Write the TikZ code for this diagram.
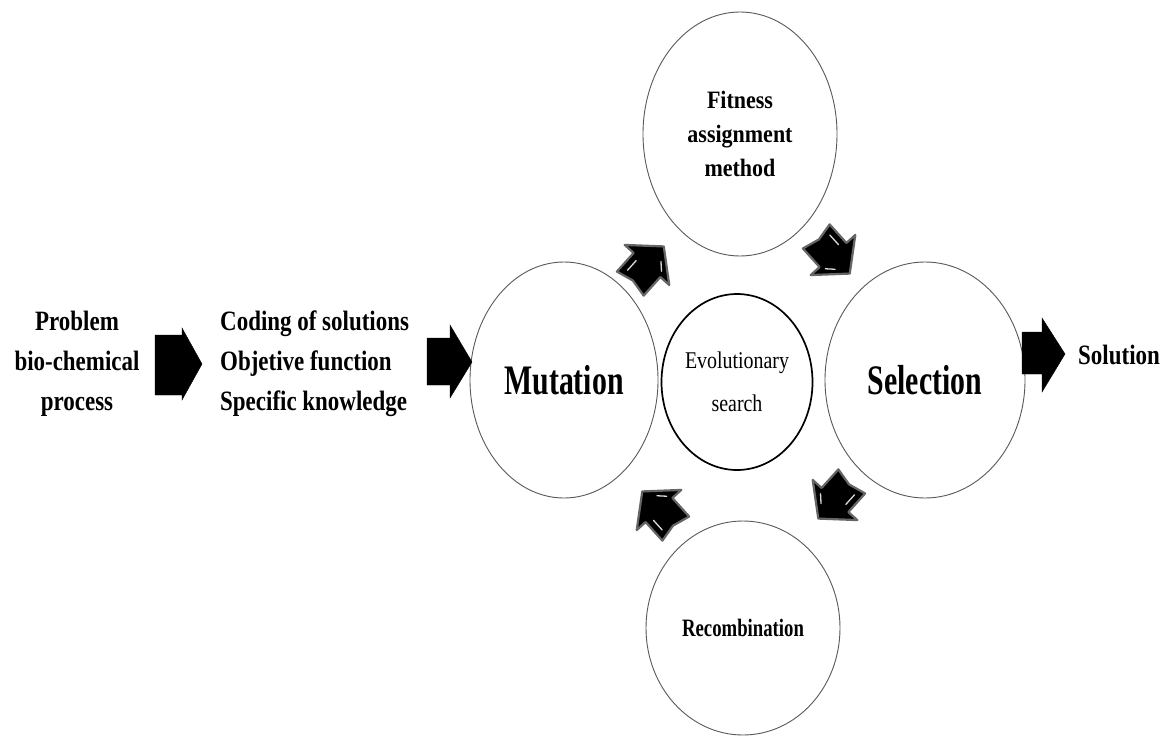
\documentclass[tikz,border=0pt]{standalone}
\usepackage{fontspec}
\setmainfont{Liberation Serif}
\newfontfamily\fA[FakeStretch=0.82]{Liberation Serif}
\newfontfamily\fB[FakeStretch=0.71]{Liberation Serif}
\newfontfamily\fC[FakeStretch=0.88]{Liberation Serif}
\newfontfamily\fD[FakeStretch=0.75]{Liberation Serif}
\newfontfamily\fE[FakeStretch=0.83]{Liberation Serif}
\usetikzlibrary{shapes.geometric}
\tikzset{
  circ/.style={ellipse, draw=black!65, line width=0.9pt, inner sep=0pt, align=center},
  bigarrow/.style={fill=black, draw=black, line width=0.4pt},
  smallarrow/.style={fill=black, draw=black!60, line width=2.2pt, line join=round},
  shine/.style={draw=white!85!black, line width=1.3pt, line cap=round},
}
\newcommand\diagarrow[3]{%
  \begin{scope}[shift={(#1,#2)}, rotate=#3]
    \path[smallarrow] (-25,-18) -- (0,-18) -- (0,-30) -- (25,0) -- (0,30) -- (0,18) -- (-25,18) -- (-21,0) -- cycle;
    \draw[shine] (-17,-11) -- (-4,-11);
    \draw[shine] (5,15) -- (12,8);
  \end{scope}}
\begin{document}
\begin{tikzpicture}[x=1pt, y=-1pt]
\useasboundingbox[fill=white] (0,0) rectangle (1169,736);

% circles
\node[circ, minimum width=194pt, minimum height=244pt,
  font={\fC\bfseries\fontsize{25}{34}\selectfont}] (fit) at (740,134)
  {Fitness\\assignment\\method};
\node[circ, minimum width=188pt, minimum height=236pt,
  font={\fB\bfseries\fontsize{42}{46}\selectfont}] (mut) at (564,380)
  {Mutation};
\node[circ, minimum width=200pt, minimum height=236pt,
  font={\fB\bfseries\fontsize{42}{46}\selectfont}] (sel) at (925,380)
  {Selection};
\node[circ, minimum width=194pt, minimum height=214pt,
  font={\fD\bfseries\fontsize{25}{30}\selectfont}] (rec) at (743,628)
  {Recombination};
\node[circ, draw=black, line width=1.7pt, minimum width=151pt, minimum height=176pt,
  font={\fE\fontsize{24}{43}\selectfont}] (evo) at (737,382)
  {Evolutionary\\search};

% texts
\node[align=center, inner sep=0pt, font={\fA\bfseries\fontsize{28}{40}\selectfont}] (prob) at (77,364)
  {Problem\\bio-chemical\\process};
\node[align=left, anchor=west, inner sep=0pt, font={\fA\bfseries\fontsize{28}{40}\selectfont}] (code) at (220,364)
  {Coding of solutions\\Objetive function\\Specific knowledge};
\node[anchor=west, inner sep=0pt, font={\fA\bfseries\fontsize{28}{34}\selectfont}] (solu) at (1078,355)
  {Solution};

% straight block arrows
\path[bigarrow] (155,335) -- (182,335) -- (182,328) -- (202,364) -- (182,400) -- (182,395) -- (155,395) -- cycle;
\path[bigarrow] (427,338) -- (450,338) -- (450,325) -- (472,362) -- (450,398) -- (450,385) -- (427,385) -- cycle;
\path[bigarrow] (1022,332) -- (1042,332) -- (1042,318) -- (1065,354) -- (1042,392) -- (1042,374) -- (1022,374) -- cycle;

% diagonal arrows
\diagarrow{647}{265}{48}
\diagarrow{833}{255}{-48}
\diagarrow{835}{500}{-132}
\diagarrow{659}{510}{132}
\end{tikzpicture}
\end{document}
